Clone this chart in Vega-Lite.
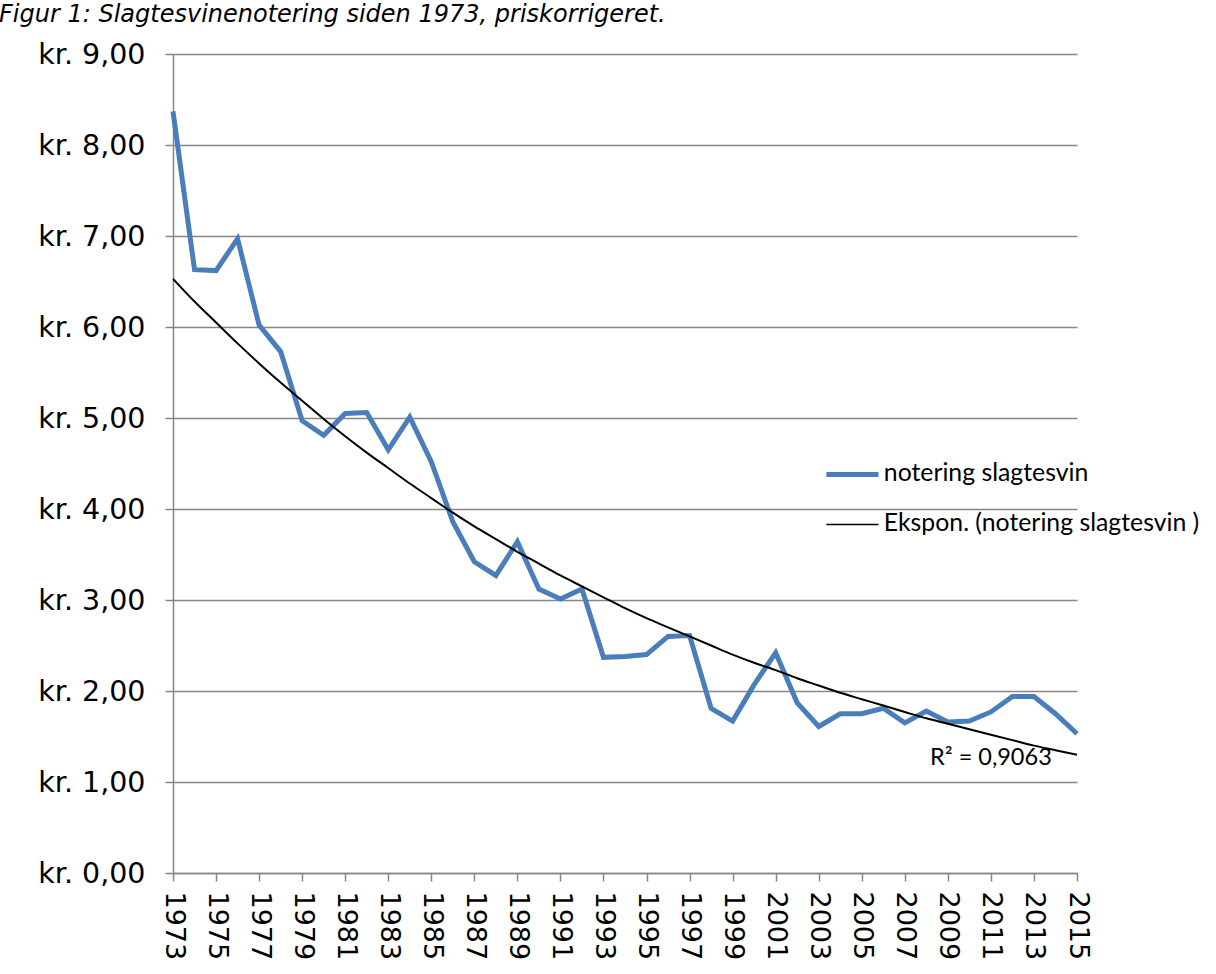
{
  "$schema": "https://vega.github.io/schema/vega-lite/v6.json",
  "width": 904,
  "height": 819,
  "autosize": {"type": "none"},
  "padding": {"left": 173, "top": 54, "right": 139, "bottom": 101},
  "background": "white",
  "title": {
    "text": "Figur 1: Slagtesvinenotering siden 1973, priskorrigeret.",
    "anchor": "start",
    "frame": "group",
    "font": "DejaVu Sans",
    "fontStyle": "italic",
    "fontWeight": "normal",
    "fontSize": 24,
    "color": "#000000",
    "baseline": "alphabetic",
    "offset": 14,
    "dy": 20,
    "dx": -174
  },
  "datasets": {
    "notering": [
      {"year": 1973, "value": 8.37},
      {"year": 1974, "value": 6.63},
      {"year": 1975, "value": 6.62},
      {"year": 1976, "value": 6.97},
      {"year": 1977, "value": 6.02},
      {"year": 1978, "value": 5.73},
      {"year": 1979, "value": 4.97},
      {"year": 1980, "value": 4.81},
      {"year": 1981, "value": 5.05},
      {"year": 1982, "value": 5.06},
      {"year": 1983, "value": 4.65},
      {"year": 1984, "value": 5.01},
      {"year": 1985, "value": 4.52},
      {"year": 1986, "value": 3.86},
      {"year": 1987, "value": 3.42},
      {"year": 1988, "value": 3.27},
      {"year": 1989, "value": 3.64},
      {"year": 1990, "value": 3.12},
      {"year": 1991, "value": 3.01},
      {"year": 1992, "value": 3.12},
      {"year": 1993, "value": 2.37},
      {"year": 1994, "value": 2.38},
      {"year": 1995, "value": 2.40},
      {"year": 1996, "value": 2.60},
      {"year": 1997, "value": 2.61},
      {"year": 1998, "value": 1.81},
      {"year": 1999, "value": 1.67},
      {"year": 2000, "value": 2.07},
      {"year": 2001, "value": 2.42},
      {"year": 2002, "value": 1.87},
      {"year": 2003, "value": 1.61},
      {"year": 2004, "value": 1.75},
      {"year": 2005, "value": 1.75},
      {"year": 2006, "value": 1.81},
      {"year": 2007, "value": 1.65},
      {"year": 2008, "value": 1.78},
      {"year": 2009, "value": 1.66},
      {"year": 2010, "value": 1.67},
      {"year": 2011, "value": 1.77},
      {"year": 2012, "value": 1.94},
      {"year": 2013, "value": 1.94},
      {"year": 2014, "value": 1.75},
      {"year": 2015, "value": 1.53}
    ],
    "trend": [
      {"year": 1973, "value": 6.53},
      {"year": 1974, "value": 6.28},
      {"year": 1975, "value": 6.05},
      {"year": 1976, "value": 5.82},
      {"year": 1977, "value": 5.60},
      {"year": 1978, "value": 5.39},
      {"year": 1979, "value": 5.19},
      {"year": 1980, "value": 4.99},
      {"year": 1981, "value": 4.80},
      {"year": 1982, "value": 4.62},
      {"year": 1983, "value": 4.45},
      {"year": 1984, "value": 4.28},
      {"year": 1985, "value": 4.12},
      {"year": 1986, "value": 3.96},
      {"year": 1987, "value": 3.81},
      {"year": 1988, "value": 3.67},
      {"year": 1989, "value": 3.53},
      {"year": 1990, "value": 3.40},
      {"year": 1991, "value": 3.27},
      {"year": 1992, "value": 3.15},
      {"year": 1993, "value": 3.03},
      {"year": 1994, "value": 2.91},
      {"year": 1995, "value": 2.80},
      {"year": 1996, "value": 2.70},
      {"year": 1997, "value": 2.60},
      {"year": 1998, "value": 2.50},
      {"year": 1999, "value": 2.40},
      {"year": 2000, "value": 2.31},
      {"year": 2001, "value": 2.23},
      {"year": 2002, "value": 2.14},
      {"year": 2003, "value": 2.06},
      {"year": 2004, "value": 1.98},
      {"year": 2005, "value": 1.91},
      {"year": 2006, "value": 1.84},
      {"year": 2007, "value": 1.77},
      {"year": 2008, "value": 1.70},
      {"year": 2009, "value": 1.64},
      {"year": 2010, "value": 1.58},
      {"year": 2011, "value": 1.52},
      {"year": 2012, "value": 1.46},
      {"year": 2013, "value": 1.40},
      {"year": 2014, "value": 1.35},
      {"year": 2015, "value": 1.30}
    ],
    "label": [
      {"text": "R² = 0,9063"}
    ]
  },
  "layer": [
    {
      "data": {"name": "notering"},
      "mark": {"type": "line", "strokeWidth": 5, "clip": false},
      "encoding": {
        "x": {
          "field": "year",
          "type": "quantitative",
          "scale": {"domain": [1973, 2015], "nice": false, "zero": false},
          "axis": {
            "title": null,
            "values": [1973, 1975, 1977, 1979, 1981, 1983, 1985, 1987, 1989, 1991, 1993, 1995, 1997, 1999, 2001, 2003, 2005, 2007, 2009, 2011, 2013, 2015],
            "format": "d",
            "labelAngle": 90,
            "labelAlign": "left",
            "labelBaseline": "middle",
            "labelPadding": 10,
            "labelFontSize": 27,
            "grid": false,
            "tickSize": 8,
            "labelFlush": false,
            "labelOverlap": false
          }
        },
        "y": {
          "field": "value",
          "type": "quantitative",
          "scale": {"domain": [0, 9], "nice": false},
          "axis": {
            "title": null,
            "values": [0, 1, 2, 3, 4, 5, 6, 7, 8, 9],
            "labelExpr": "'kr. ' + replace(format(datum.value, '.2f'), '.', ',')",
            "labelPadding": 20,
            "labelFontSize": 28.5,
            "tickSize": 8,
            "grid": true
          }
        },
        "color": {
          "datum": "notering slagtesvin",
          "legend": {
            "encode": {
              "symbols": {
                "update": {
                  "strokeWidth": {"signal": "datum.value === 'notering slagtesvin' ? 5 : 1.5"}
                }
              }
            }
          }
        }
      }
    },
    {
      "data": {"name": "trend"},
      "mark": {"type": "line", "strokeWidth": 2, "interpolate": "monotone"},
      "encoding": {
        "x": {"field": "year", "type": "quantitative"},
        "y": {"field": "value", "type": "quantitative"},
        "color": {"datum": "Ekspon. (notering slagtesvin )"}
      }
    },
    {
      "data": {"name": "label"},
      "mark": {"type": "text", "font": "Lato", "fontSize": 23.5, "align": "center", "baseline": "middle", "color": "#000000"},
      "encoding": {
        "x": {"datum": 2011},
        "y": {"datum": 1.26},
        "text": {"field": "text"}
      }
    }
  ],
  "resolve": {"scale": {"color": "shared"}},
  "config": {
    "view": {"stroke": null},
    "axis": {
      "labelFont": "DejaVu Sans",
      "labelFontSize": 27,
      "labelColor": "#000000",
      "domainColor": "#868686",
      "domainWidth": 1.5,
      "tickColor": "#868686",
      "tickWidth": 1.5,
      "gridColor": "#868686",
      "gridWidth": 1.5
    },
    "range": {"category": ["#4a7ebb", "#000000"]},
    "legend": {
      "orient": "none",
      "legendX": 667,
      "legendY": 408,
      "title": null,
      "symbolType": "stroke",
      "symbolSize": 2704,
      "labelFont": "Lato",
      "labelFontSize": 24.8,
      "labelColor": "#000000",
      "labelOffset": 19,
      "labelLimit": 0,
      "rowPadding": 24
    }
  }
}
